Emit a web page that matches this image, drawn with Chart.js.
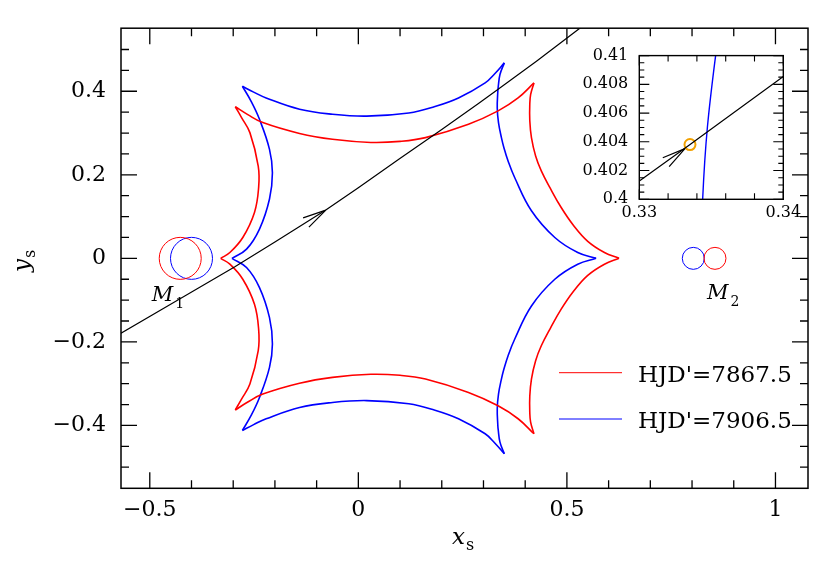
<!DOCTYPE html>
<html>
<head>
<meta charset="utf-8">
<script src="https://cdn.jsdelivr.net/npm/chart.js@4.4.0/dist/chart.umd.min.js"></script>
<style>
  html, body { margin: 0; padding: 0; background: #fff; }
  #wrap { position: relative; width: 830px; height: 562px; }
  #mainChart { position: absolute; left: 0; top: 0; }
  #insetChart { position: absolute; left: 580px; top: 35px; }
</style>
</head>
<body>
<div id="wrap">
  <canvas id="mainChart" width="830" height="562"></canvas>
  <canvas id="insetChart" width="230" height="195"></canvas>
</div>
<script>
// Caustics at the two epochs (x_s, y_s), one list per fold between two cusps
const redCaustic = [
    [[-0.330, 0.000], [-0.308, 0.014], [-0.277, 0.050], [-0.249, 0.110], [-0.239, 0.170],
     [-0.240, 0.221], [-0.260, 0.301], [-0.280, 0.337], [-0.295, 0.363]],
    [[-0.295, 0.363], [-0.265, 0.344], [-0.229, 0.325], [-0.141, 0.299], [-0.062, 0.285],
     [0.030, 0.2775], [0.100, 0.280], [0.161, 0.289], [0.264, 0.321], [0.335, 0.353],
     [0.383, 0.384], [0.421, 0.420]],
    [[0.421, 0.420], [0.413, 0.392], [0.411, 0.3685], [0.411, 0.330], [0.415, 0.289],
     [0.425, 0.245], [0.4386, 0.2093], [0.460, 0.168], [0.4863, 0.1217], [0.515, 0.080],
     [0.550, 0.0408], [0.590, 0.014], [0.625, 0.000]],
    [[0.625, 0.000], [0.590, -0.014], [0.550, -0.0408], [0.515, -0.080], [0.4863, -0.1217],
     [0.460, -0.168], [0.4386, -0.2093], [0.425, -0.245], [0.415, -0.289], [0.411, -0.330],
     [0.411, -0.3685], [0.413, -0.392], [0.421, -0.420]],
    [[0.421, -0.420], [0.383, -0.384], [0.335, -0.353], [0.264, -0.321], [0.161, -0.289],
     [0.100, -0.280], [0.030, -0.2775], [-0.062, -0.285], [-0.141, -0.299], [-0.229, -0.325],
     [-0.265, -0.344], [-0.295, -0.363]],
    [[-0.295, -0.363], [-0.280, -0.337], [-0.260, -0.301], [-0.240, -0.221], [-0.239, -0.170],
     [-0.249, -0.110], [-0.277, -0.050], [-0.308, -0.014], [-0.330, 0.000]]
];
const blueCaustic = [
    [[-0.303, 0.000], [-0.268, 0.022], [-0.237, 0.070], [-0.213, 0.142], [-0.206, 0.205],
     [-0.213, 0.261], [-0.237, 0.333], [-0.257, 0.376], [-0.278, 0.412]],
    [[-0.278, 0.412], [-0.251, 0.398], [-0.221, 0.384], [-0.141, 0.357], [-0.062, 0.345],
     [0.020, 0.3405], [0.121, 0.348], [0.182, 0.363], [0.240, 0.384], [0.304, 0.420],
     [0.327, 0.442], [0.350, 0.468]],
    [[0.350, 0.468], [0.3395, 0.440], [0.3353, 0.410], [0.3344, 0.400], [0.333, 0.360],
     [0.336, 0.325], [0.343, 0.289], [0.349, 0.265], [0.359, 0.233], [0.375, 0.193],
     [0.415, 0.114], [0.471, 0.050], [0.526, 0.014], [0.570, 0.000]],
    [[0.570, 0.000], [0.526, -0.014], [0.471, -0.050], [0.415, -0.114], [0.375, -0.193],
     [0.359, -0.233], [0.349, -0.265], [0.343, -0.289], [0.336, -0.325], [0.333, -0.360],
     [0.3344, -0.400], [0.3353, -0.410], [0.3395, -0.440], [0.350, -0.468]],
    [[0.350, -0.468], [0.327, -0.442], [0.304, -0.420], [0.240, -0.384], [0.182, -0.363],
     [0.121, -0.348], [0.020, -0.3405], [-0.062, -0.345], [-0.141, -0.357], [-0.221, -0.384],
     [-0.251, -0.398], [-0.278, -0.412]],
    [[-0.278, -0.412], [-0.257, -0.376], [-0.237, -0.333], [-0.213, -0.261], [-0.206, -0.205],
     [-0.213, -0.142], [-0.237, -0.070], [-0.268, -0.022], [-0.303, 0.000]]
];
// Source trajectory
const trajectory = [
    [-0.600, -0.197], [-0.569, -0.179], [-0.450, -0.110], [-0.296, -0.020], [-0.200, 0.039],
    [-0.078, 0.1155], [0.000, 0.169], [0.097, 0.237], [0.200, 0.3085], [0.288, 0.371],
    [0.3335, 0.4038], [0.427, 0.472], [0.531, 0.551], [0.560, 0.573]
];
// Lens positions (red epoch, blue epoch)
const lensM1X = [-0.427, -0.400];
const lensM2X = [0.855, 0.803];
const lensY = [0, 0];
const lensNames = ["1", "2"];
const lensLabelX = [-0.495, 0.836];
const lensLabelY = [-0.101, -0.097];
// Source position at the caustic crossing and the arrow tips
const sourceNow = [0.33352, 0.40381];
const mainArrowTip = [-0.078, 0.1155];
const insetArrowTip = [0.33317, 0.40353];
const legendLabels = ["HJD'=7867.5", "HJD'=7906.5"];
const legendColors = ["#ff0000", "#0000ff"];

// Tick values
const xMajorTicks = [-0.5, 0, 0.5, 1];
const xMinorTicks = [-0.5, -0.4, -0.3, -0.2, -0.1, 0, 0.1, 0.2, 0.3, 0.4, 0.5, 0.6, 0.7, 0.8, 0.9, 1.0];
const yMajorTicks = [-0.4, -0.2, 0, 0.2, 0.4];
const yMinorTicks = [-0.5, -0.45, -0.4, -0.35, -0.3, -0.25, -0.2, -0.15, -0.1, -0.05, 0,
    0.05, 0.1, 0.15, 0.2, 0.25, 0.3, 0.35, 0.4, 0.45, 0.5];
const insetXMajorTicks = [0.33, 0.34];
const insetXMinorTicks = [0.332, 0.334, 0.336, 0.338];
const insetYMajorTicks = [0.4, 0.402, 0.404, 0.406, 0.408, 0.41];
const insetYMinorTicks = [0.4005, 0.401, 0.4015, 0.4025, 0.403, 0.4035, 0.4045, 0.405, 0.4055,
    0.4065, 0.407, 0.4075, 0.4085, 0.409, 0.4095];

const SERIF = '"DejaVu Serif", serif';
const toPoints = arr => arr.map(p => ({ x: p[0], y: p[1] }));
const fmt = v => (v === 0 ? "0" : String(+v.toFixed(4)).replace("-", "\u2212"));

// one smooth line per fold, so the cusps stay sharp
function causticSets(edges, color, width) {
    return edges.map(edge => ({
        data: toPoints(edge), showLine: true, tension: 0.4,
        borderColor: color, borderWidth: width, pointRadius: 0
    }));
}

// Frame with inward ticks on all four sides
function drawFrame(chart, t) {
    const { ctx, chartArea: a, scales: { x, y } } = chart;
    ctx.save();
    ctx.strokeStyle = "#000";
    ctx.lineWidth = t.tickWidth;
    ctx.beginPath();
    const xt = (vals, len) => vals.forEach(v => {
        const px = x.getPixelForValue(v);
        ctx.moveTo(px, a.bottom); ctx.lineTo(px, a.bottom - len);
        ctx.moveTo(px, a.top); ctx.lineTo(px, a.top + len);
    });
    const yt = (vals, len) => vals.forEach(v => {
        const py = y.getPixelForValue(v);
        ctx.moveTo(a.left, py); ctx.lineTo(a.left + len, py);
        ctx.moveTo(a.right, py); ctx.lineTo(a.right - len, py);
    });
    xt(t.xMinor, t.xMinorLen); xt(t.xMajor, t.xMajorLen);
    yt(t.yMinor, t.yMinorLen); yt(t.yMajor, t.yMajorLen);
    ctx.stroke();
    ctx.lineWidth = t.frameWidth;
    ctx.strokeRect(a.left, a.top, a.right - a.left, a.bottom - a.top);
    ctx.restore();
}

// Open arrow head along the trajectory
function drawArrow(chart, tip, path, len, spread) {
    const { ctx, scales: { x, y } } = chart;
    let i = 1;
    while (i < path.length - 1 && path[i][0] < tip[0]) i++;
    const x0 = x.getPixelForValue(path[i - 1][0]), y0 = y.getPixelForValue(path[i - 1][1]);
    const x1 = x.getPixelForValue(path[i][0]), y1 = y.getPixelForValue(path[i][1]);
    const ang = Math.atan2(y1 - y0, x1 - x0);
    const tx = x.getPixelForValue(tip[0]), ty = y.getPixelForValue(tip[1]);
    ctx.save();
    ctx.strokeStyle = "#000";
    ctx.lineWidth = 1.2;
    ctx.beginPath();
    [-spread, spread].forEach(s => {
        ctx.moveTo(tx, ty);
        ctx.lineTo(tx - len * Math.cos(ang + s), ty - len * Math.sin(ang + s));
    });
    ctx.stroke();
    ctx.restore();
}

const mainDecor = {
    id: "mainDecor",
    afterDraw(chart) {
        const { ctx, chartArea: a, scales: { x, y } } = chart;
        drawFrame(chart, {
            xMajor: xMajorTicks, xMinor: xMinorTicks, yMajor: yMajorTicks, yMinor: yMinorTicks,
            xMajorLen: 16, xMinorLen: 8, yMajorLen: 16, yMinorLen: 8, tickWidth: 1.3, frameWidth: 1.5
        });
        drawArrow(chart, mainArrowTip, trajectory, 24, 0.23);

        ctx.save();
        ctx.fillStyle = "#000";
        ctx.textAlign = "left";
        ctx.textBaseline = "alphabetic";
        // lens labels
        lensNames.forEach((n, i) => {
            const px = x.getPixelForValue(lensLabelX[i]);
            const py = y.getPixelForValue(lensLabelY[i]);
            ctx.font = "italic 21px " + SERIF;
            ctx.fillText("M", px, py);
            const w = ctx.measureText("M").width;
            ctx.font = "14px " + SERIF;
            ctx.fillText(n, px + w + 2, py + 7);
        });
        // legend
        legendLabels.forEach((lab, i) => {
            const ly = a.bottom - 115.6 + i * 46.3;
            ctx.strokeStyle = legendColors[i];
            ctx.lineWidth = 1;
            ctx.beginPath();
            ctx.moveTo(a.right - 249, ly);
            ctx.lineTo(a.right - 186, ly);
            ctx.stroke();
            ctx.font = "23px " + SERIF;
            ctx.textBaseline = "middle";
            ctx.fillText(lab, a.right - 170, ly + 3);
        });
        // axis titles
        ctx.textBaseline = "alphabetic";
        ctx.font = "italic 23px " + SERIF;
        ctx.fillText("x", 452, 544);
        let w = ctx.measureText("x").width;
        ctx.font = "16px " + SERIF;
        ctx.fillText("s", 452 + w + 1, 550);

        ctx.translate(29, 272);
        ctx.rotate(-Math.PI / 2);
        ctx.font = "italic 23px " + SERIF;
        ctx.fillText("y", 0, 0);
        w = ctx.measureText("y").width;
        ctx.font = "16px " + SERIF;
        ctx.fillText("s", w + 1, 6);
        ctx.restore();
    }
};

const insetDecor = {
    id: "insetDecor",
    beforeDatasetsDraw(chart) {
        const { ctx, chartArea: a } = chart;
        ctx.save();
        ctx.fillStyle = "#fff";
        ctx.fillRect(a.left, a.top, a.right - a.left, a.bottom - a.top);
        ctx.restore();
    },
    afterDraw(chart) {
        drawFrame(chart, {
            xMajor: insetXMajorTicks, xMinor: insetXMinorTicks, yMajor: insetYMajorTicks, yMinor: insetYMinorTicks,
            xMajorLen: 10, xMinorLen: 6, yMajorLen: 10, yMinorLen: 5, tickWidth: 1.1, frameWidth: 1.4
        });
        drawArrow(chart, insetArrowTip, trajectory, 24, 0.23);
    }
};

function scaleOpts(min, max, ticks, size, pad, fit) {
    return {
        type: "linear", min: min, max: max,
        grid: { display: false, drawTicks: false },
        border: { display: false },
        afterBuildTicks: s => { s.ticks = ticks.map(v => ({ value: v })); },
        afterFit: fit,
        ticks: {
            autoSkip: false, maxRotation: 0, padding: pad, color: "#000",
            font: { family: SERIF, size: size },
            callback: v => fmt(v)
        }
    };
}

new Chart(document.getElementById("mainChart"), {
    type: "scatter",
    data: {
        datasets: [
            { data: toPoints(trajectory), showLine: true, borderColor: "#000", borderWidth: 1.2, pointRadius: 0 },
            ...causticSets(redCaustic, "#ff0000", 1.6),
            ...causticSets(blueCaustic, "#0000ff", 1.6),
            {
                data: [{ x: lensM1X[0], y: lensY[0] }, { x: lensM2X[0], y: lensY[1] }],
                pointRadius: [21, 11], pointBorderWidth: 1,
                pointBorderColor: "#ff0000", pointBackgroundColor: "rgba(0,0,0,0)"
            },
            {
                data: [{ x: lensM1X[1], y: lensY[0] }, { x: lensM2X[1], y: lensY[1] }],
                pointRadius: [21, 11], pointBorderWidth: 1,
                pointBorderColor: "#0000ff", pointBackgroundColor: "rgba(0,0,0,0)"
            }
        ]
    },
    options: {
        responsive: false,
        animation: false,
        events: [],
        layout: { padding: { left: 0, right: 18.3, top: 26.7, bottom: 0 } },
        plugins: { legend: { display: false }, tooltip: { enabled: false } },
        scales: {
            x: scaleOpts(-0.569, 1.078, xMajorTicks, 22, 9, s => { s.height = 73.7; }),
            y: scaleOpts(-0.5505, 0.551, yMajorTicks, 22, 15, s => { s.width = 121; })
        }
    },
    plugins: [mainDecor]
});

new Chart(document.getElementById("insetChart"), {
    type: "scatter",
    data: {
        datasets: [
            { data: toPoints(trajectory), showLine: true, borderColor: "#000", borderWidth: 1.2, pointRadius: 0 },
            ...causticSets(blueCaustic, "#0000ff", 1.4),
            {
                data: [{ x: sourceNow[0], y: sourceNow[1] }],
                pointRadius: 5.5, pointBorderWidth: 2,
                pointBorderColor: "#f2a100", pointBackgroundColor: "rgba(0,0,0,0)"
            }
        ]
    },
    options: {
        responsive: false,
        animation: false,
        events: [],
        layout: { padding: { left: 0, right: 26.7, top: 20, bottom: 0 } },
        plugins: { legend: { display: false }, tooltip: { enabled: false } },
        scales: {
            x: scaleOpts(0.33, 0.34, insetXMajorTicks, 16, 4, s => { s.height = 30.7; }),
            y: scaleOpts(0.4, 0.41, insetYMajorTicks, 16, 11, s => { s.width = 59.3; })
        }
    },
    plugins: [insetDecor]
});
</script>
</body>
</html>
